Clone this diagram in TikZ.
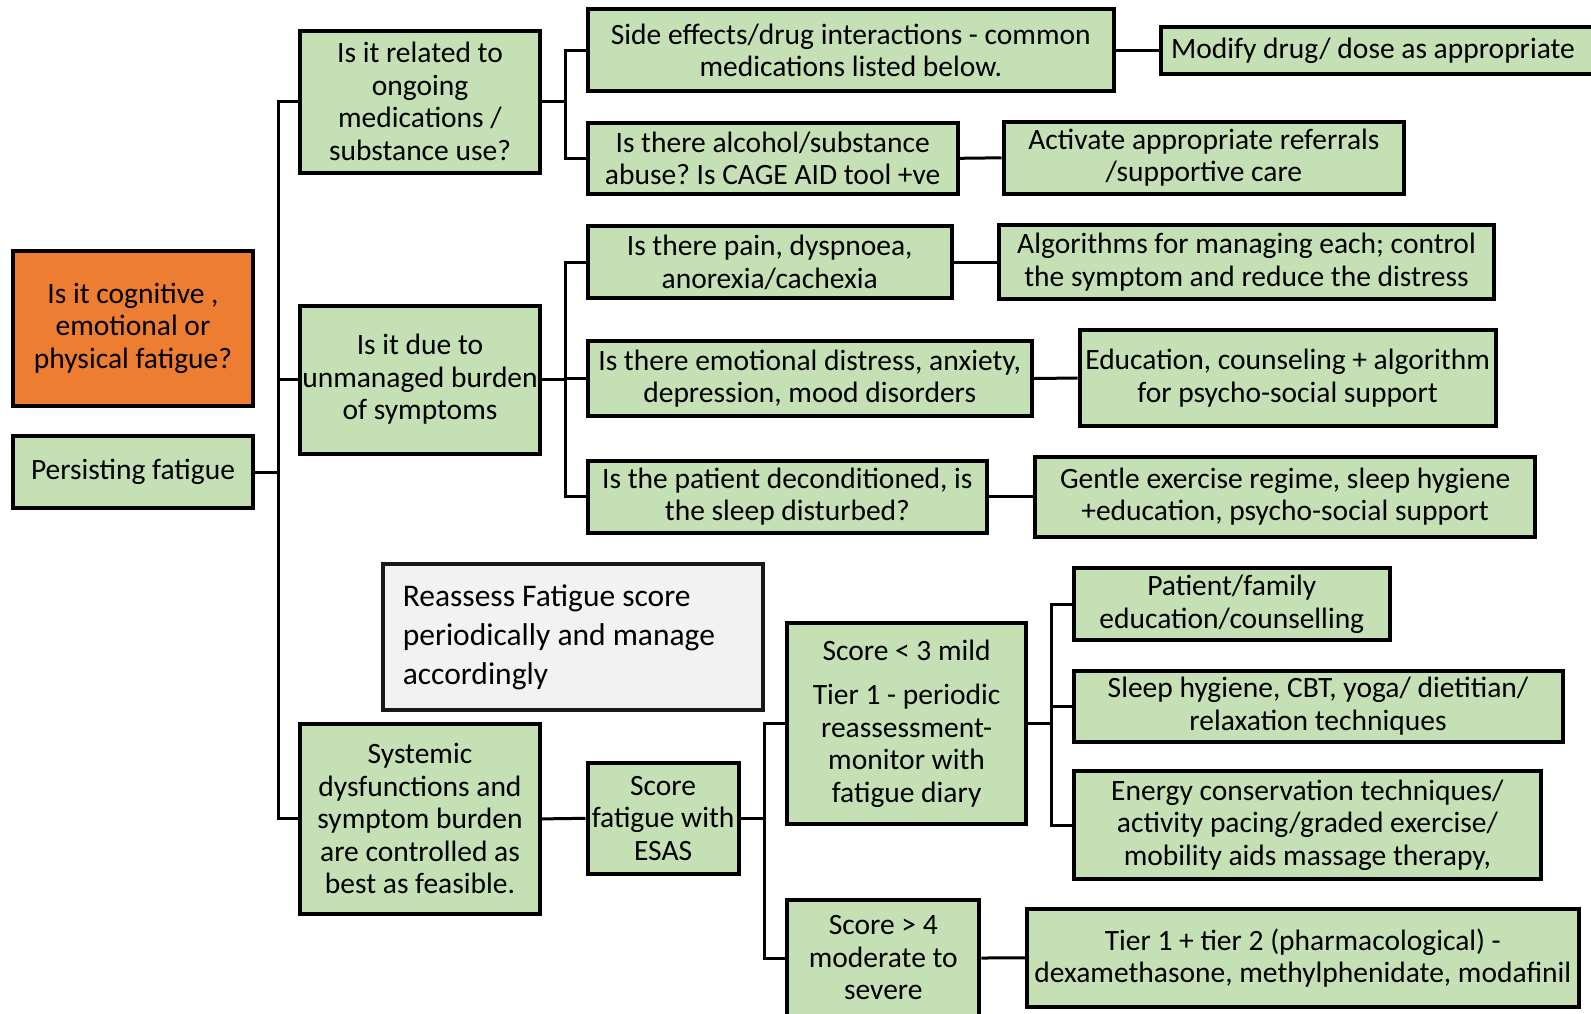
\documentclass[tikz,border=0pt]{standalone}
\usepackage{fontspec}
\setmainfont{Carlito}
\definecolor{boxgreen}{HTML}{C5E0B4}
\definecolor{boxorange}{HTML}{ED7D31}
\definecolor{boxgrey}{HTML}{F2F2F2}
\frenchspacing
\begin{document}
\begin{tikzpicture}[x=1pt,y=-1pt,font=\fontsize{29.5}{32.5}\selectfont,
    box/.style={draw=black,line width=4pt,fill=boxgreen,inner sep=0pt,align=center},
    link/.style={line width=3pt}]
            \def\gap{24}
            \useasboundingbox (0,0) rectangle (1591,1013);

            % left column
            \node[box,fill=boxorange,minimum width=239.5pt,minimum height=155pt] (kind) at (133,328) {Is it cognitive ,\\emotional or\\physical fatigue?};
            \node[box,minimum width=239.5pt,minimum height=72pt] (persist) at (133,472.3) {Persisting fatigue};

            % second column
            \node[box,minimum width=239.5pt,minimum height=142pt] (meds) at (420,101.5) {Is it related to\\ongoing\\medications /\\substance use?};
            \node[box,minimum width=239.5pt,minimum height=148pt] (burden) at (420,379.5) {Is it due to\\unmanaged burden\\of symptoms};
            \node[box,minimum width=239.5pt,minimum height=190.7pt] (systemic) at (420,818.9) {Systemic\\dysfunctions and\\symptom burden\\are controlled as\\best as feasible.};

            % questions
            \node[box,minimum width=526.6pt,minimum height=82pt] (sidefx) at (850.8,50.2) {Side effects/drug interactions - common\\medications listed below.};
            \node[box,minimum width=370.3pt,minimum height=71pt] (abuse) at (772.7,158.3) {Is there alcohol/substance\\abuse? Is CAGE AID tool +ve};
            \node[box,minimum width=364.3pt,minimum height=72pt] (pain) at (769.7,262.3) {Is there pain, dyspnoea,\\anorexia/cachexia};
            \node[box,minimum width=444.4pt,minimum height=75pt] (mood) at (809.7,378.5) {Is there emotional distress, anxiety,\\depression, mood disorders};
            \node[box,minimum width=399.8pt,minimum height=72pt] (sleep) at (787.4,496.7) {Is the patient deconditioned, is\\the sleep disturbed?};

            % actions
            \node[box,minimum width=434pt,minimum height=47pt] (modify) at (1378,50.5) {Modify drug/ dose as appropriate\hspace*{10pt}};
            \node[box,minimum width=400.8pt,minimum height=72pt] (refer) at (1203.9,157.8) {Activate appropriate referrals\\/supportive care};
            \node[box,minimum width=494.2pt,minimum height=74pt] (algo) at (1246.5,262.3) {Algorithms for managing each; control\\the symptom and reduce the distress};
            \node[box,minimum width=416pt,minimum height=96pt] (educ) at (1287.6,378) {Education, counseling + algorithm\\for psycho-social support};
            \node[box,minimum width=500.2pt,minimum height=80pt] (gentle) at (1285.1,496.7) {Gentle exercise regime, sleep hygiene\\+education, psycho-social support};

            % scoring
            \node[box,draw=black!90,fill=boxgrey,font=\fontsize{31.5}{39}\selectfont,text width=340pt,inner xsep=20pt,align=flush left,minimum height=146pt] (reassess) at (572.8,637.3) {Reassess Fatigue score\\periodically and manage\\accordingly};
            \node[box,minimum width=151.2pt,minimum height=110.6pt] (esas) at (663.1,818.3) {Score\\fatigue with\\ESAS};
            \node[box,minimum width=238.4pt,minimum height=201pt] (mild) at (906.6,723.5) {Score < 3 mild\\[12pt]Tier 1 - periodic\\reassessment-\\monitor with\\fatigue diary};
            \node[box,minimum width=192pt,minimum height=116pt] (severe) at (883.3,958) {Score > 4\\moderate to\\severe};

            \node[box,minimum width=316.6pt,minimum height=72pt] (family) at (1231.8,604.3) {Patient/family\\education/counselling};
            \node[box,minimum width=489pt,minimum height=71pt] (cbt) at (1318,706.2) {Sleep hygiene, CBT, yoga/ dietitian/\\relaxation techniques};
            \node[box,minimum width=467.8pt,minimum height=107.5pt] (energy) at (1307.4,825) {Energy conservation techniques/\\activity pacing/graded exercise/\\mobility aids massage therapy,};
            \node[box,minimum width=552pt,minimum height=97.4pt] (pharma) at (1302.8,957.9) {Tier 1 + tier 2 (pharmacological) -\\dexamethasone, methylphenidate, modafinil};

            % junctions
            \path (persist.east) ++(\gap,0) coordinate (trunk);
            \path (meds.east) ++(\gap,0) coordinate (jmeds);
            \path (burden.east) ++(\gap,0) coordinate (jburden);
            \path (esas.east) ++(\gap,0) coordinate (jesas);
            \path (mild.east) ++(\gap,0) coordinate (jmild);

            \draw[link] (persist.east) -- (trunk);
            \draw[link] (trunk) |- (meds.west);
            \draw[link] (trunk) |- (burden.west);
            \draw[link] (trunk) |- (systemic.west);

            \draw[link] (meds.east) -- (jmeds);
            \draw[link] (jmeds) |- (sidefx.west);
            \draw[link] (jmeds) |- (abuse.west);
            \draw[link] (sidefx.east) -- (sidefx.east -| modify.west);
            \draw[link] (abuse.east) -- (refer.west);

            \draw[link] (burden.east) -- (jburden);
            \draw[link] (jburden) |- (pain.west);
            \draw[link] (jburden) |- (mood.west);
            \draw[link] (jburden) |- (sleep.west);
            \draw[link] (pain.east) -- (algo.west);
            \draw[link] (mood.east) -- (educ.west);
            \draw[link] (sleep.east) -- (gentle.west);

            \draw[link] (systemic.east) -- (esas.west);
            \draw[link] (esas.east) -- (jesas);
            \draw[link] (jesas) |- (mild.west);
            \draw[link] (jesas) |- (severe.west);

            \draw[link] (mild.east) -- (jmild);
            \draw[link] (jmild) |- (family.west);
            \draw[link] (jmild) |- (cbt.west);
            \draw[link] (jmild) |- (energy.west);
            \draw[link] (severe.east) -- (pharma.west);
        \end{tikzpicture}
\end{document}
